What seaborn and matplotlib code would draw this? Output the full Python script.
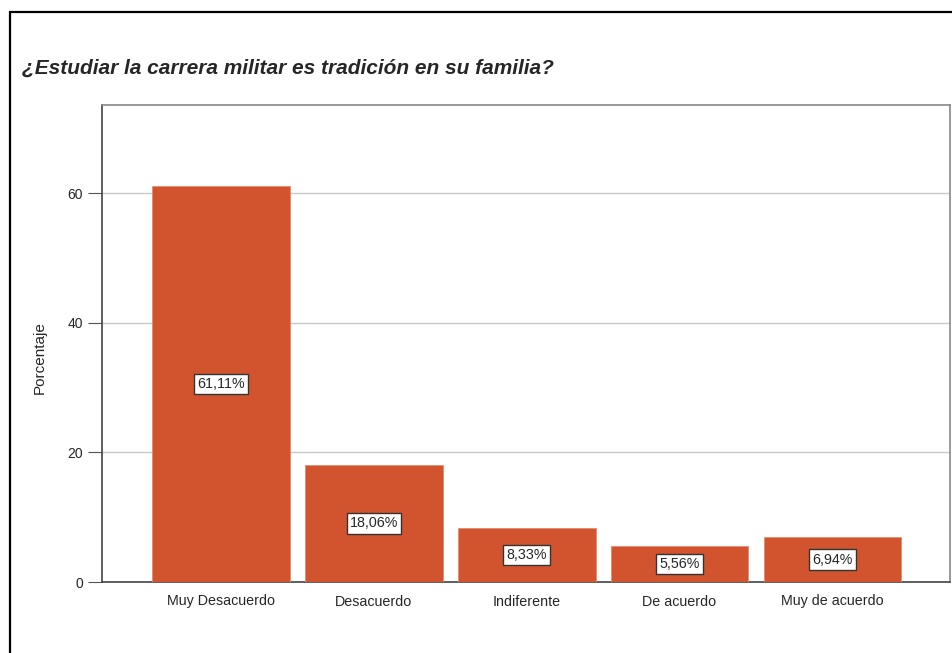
import numpy as np
import pandas as pd
import matplotlib
matplotlib.use("Agg")
import matplotlib.pyplot as plt
import seaborn as sns
from matplotlib.patches import Rectangle

categorias = ["Muy Desacuerdo", "Desacuerdo", "Indiferente", "De acuerdo", "Muy de acuerdo"]
porcentajes = [61.11, 18.06, 8.33, 5.56, 6.94]
etiquetas = ["61,11%", "18,06%", "8,33%", "5,56%", "6,94%"]
y_ticks = [0, 20, 40, 60]

sns.set_style("white")
plt.rcParams["font.family"] = ["Liberation Sans", "DejaVu Sans"]

W, H = 952, 653
fig = plt.figure(figsize=(W / 100, H / 100), dpi=100)
ax = fig.add_axes([102 / W, 1 - 582 / H, (950 - 102) / W, (582 - 105) / H])

df = pd.DataFrame({"cat": categorias, "pct": porcentajes})
sns.barplot(data=df, x="cat", y="pct", order=categorias, color="#D1542F",
            saturation=1, width=0.9, edgecolor="#E58A6E", linewidth=0.6, ax=ax, zorder=3)

ax.set_xlim(-0.78, 4.77)
ax.set_ylim(0, 73.6)
ax.set_yticks(y_ticks)
ax.set_yticklabels([str(t) for t in y_ticks], fontsize=10)
ax.tick_params(axis="y", left=True, length=10, width=0.8, color="#555555", pad=3.5)
ax.tick_params(axis="x", bottom=False, length=0, labelsize=10.3, pad=9)
ax.grid(axis="y", color="#C8C8C8", linewidth=1, zorder=0)
ax.set_xlabel("")
ax.set_ylabel("Porcentaje", fontsize=11)
ax.yaxis.set_label_coords(-0.065, 0.47)

for side in ["left", "bottom"]:
    ax.spines[side].set_color("#444444")
    ax.spines[side].set_linewidth(1.2)
for side in ["top", "right"]:
    ax.spines[side].set_color("#888888")
    ax.spines[side].set_linewidth(1.2)

for i, (v, lab) in enumerate(zip(porcentajes, etiquetas)):
    ax.text(i, v / 2, lab, ha="center", va="center", fontsize=10.3, zorder=5,
            bbox=dict(boxstyle="square,pad=0.22", facecolor="white", edgecolor="#333333", linewidth=1))

fig.text(22 / W, 1 - 68 / H, "¿Estudiar la carrera militar es tradición en su familia?",
         fontsize=15, fontweight="bold", fontstyle="italic", ha="left", va="center")

# marco exterior
fig.patches.append(Rectangle((10 / W, -0.1), 1.2, 1 - 12 / H + 0.1, transform=fig.transFigure,
                             fill=False, edgecolor="black", linewidth=1.6))

fig.savefig("out.png", dpi=100)
